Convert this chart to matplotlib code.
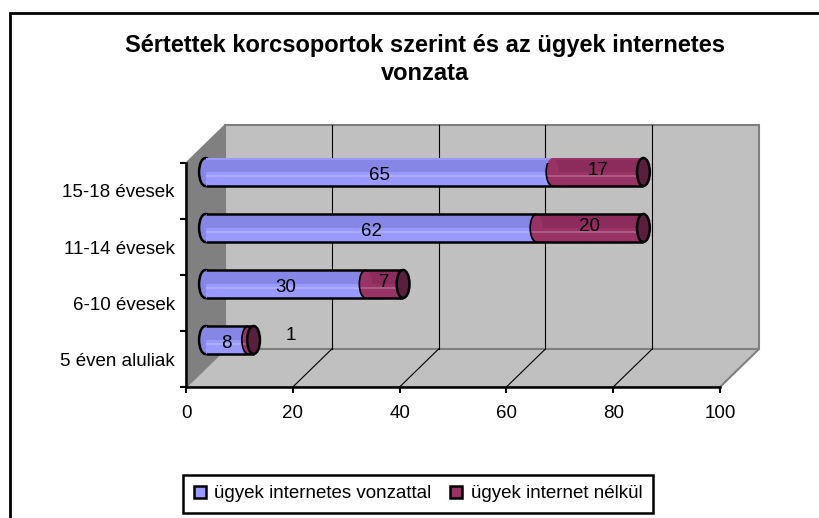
import matplotlib.pyplot as plt
from matplotlib.patches import Rectangle, Polygon, Ellipse, Arc, Patch

# data
categories = ['5 éven aluliak', '6-10 évesek', '11-14 évesek', '15-18 évesek']
with_internet = [8, 30, 62, 65]
without_internet = [1, 7, 20, 17]
series_names = ['ügyek internetes vonzattal', 'ügyek internet nélkül']
x_ticks = [0, 20, 40, 60, 80, 100]

plt.rcParams['font.family'] = ['Liberation Sans', 'DejaVu Sans']

W, H = 819, 518
fig = plt.figure(figsize=(W / 100, H / 100), dpi=100)

# front face of the 3D box (pixels -> figure fraction)
ax = fig.add_axes([186 / W, (H - 387) / H, 534 / W, 224 / H])
ax.set_xlim(0, 100)
ax.set_ylim(-0.5, 3.5)
ax.patch.set_visible(False)

# depth of the box in data units
DX = 39 / 534 * 100
DY = 38 / 224 * 4
y0, y1 = -0.5, 3.5

# walls and floor
ax.add_patch(Polygon([(0, y0), (0, y1), (DX, y1 + DY), (DX, y0 + DY)],
                     fc='#808080', ec='#808080', lw=1, clip_on=False, zorder=0))
ax.add_patch(Rectangle((DX, y0 + DY), 100, 4, fc='#c0c0c0', ec='#808080',
                       lw=1.5, clip_on=False, zorder=0))
ax.add_patch(Polygon([(0, y0), (100, y0), (100 + DX, y0 + DY), (DX, y0 + DY)],
                     fc='#c0c0c0', ec='#808080', lw=1.5, clip_on=False, zorder=0))
for t in x_ticks[1:-1]:
    ax.plot([t + DX, t + DX], [y0 + DY, y1 + DY], color='black', lw=0.8,
            clip_on=False, zorder=1)
for t in x_ticks[1:-1]:
    ax.plot([t, t + DX], [y0, y0 + DY], color='black', lw=0.8,
            clip_on=False, zorder=1)

# cylinder bars, drawn at mid depth
blue, blue_dk = '#9999ff', '#8686e6'
maroon, maroon_dk = '#993366', '#8c2c5c'
cap = '#5a1f3e'
bh = 0.5
cap_w = 2.4
for i in range(len(categories)):
    yc = i + DY / 2
    a, b = with_internet[i], without_internet[i]
    left = DX / 2
    total = a + b
    # rounded left end
    ax.add_patch(Ellipse((left, yc), cap_w, bh, fc=blue_dk, ec='black', lw=1.8,
                         clip_on=False, zorder=2))
    ax.barh(yc, a, left=left, height=bh, color=blue, edgecolor='none',
            clip_on=False, zorder=3)
    ax.barh(yc, b, left=left + a, height=bh, color=maroon, edgecolor='none',
            clip_on=False, zorder=3)
    # darker upper band for the cylinder shading
    ax.barh(yc + bh * 0.22, a, left=left, height=bh * 0.45, color=blue_dk,
            edgecolor='none', clip_on=False, zorder=3)
    ax.barh(yc + bh * 0.22, b, left=left + a, height=bh * 0.45, color=maroon_dk,
            edgecolor='none', clip_on=False, zorder=3)
    # rounded start of the second segment
    ax.add_patch(Ellipse((left + a, yc), cap_w, bh, fc=maroon, ec='none',
                         clip_on=False, zorder=3.5))
    ax.hlines(yc - 0.07, left, left + total, color='white', alpha=0.2, lw=1.5,
              zorder=4)
    ax.hlines([yc - bh / 2, yc + bh / 2], left, left + total, color='black',
              lw=1.8, zorder=5)
    ax.add_patch(Arc((left + a, yc), cap_w, bh, theta1=90, theta2=270,
                     color='black', lw=1.2, zorder=5))
    ax.add_patch(Ellipse((left + total, yc), cap_w, bh, fc=cap, ec='black',
                         lw=1.8, clip_on=False, zorder=6))
    # value labels
    ax.text(left + a / 2, yc - 0.06, str(a), ha='center', va='center',
            fontsize=13.5, zorder=7)
    if b < 3:
        ax.text(left + total + 7, yc + 0.08, str(b), ha='center', va='center',
                fontsize=13.5, zorder=7)
    else:
        ax.text(left + a + b / 2, yc + 0.03, str(b), ha='center', va='center',
                fontsize=13.5, zorder=7)

# axes styling
for s in ['top', 'right']:
    ax.spines[s].set_visible(False)
for s in ['left', 'bottom']:
    ax.spines[s].set_linewidth(1.8)
    ax.spines[s].set_zorder(8)
ax.set_yticks([-0.5, 0.5, 1.5, 2.5, 3.5])
ax.set_yticklabels([])
ax.set_yticks(range(len(categories)), minor=True)
ax.set_yticklabels(categories, minor=True, fontsize=13.5)
ax.tick_params(axis='y', which='major', direction='out', length=4.5, width=1.5)
ax.tick_params(axis='y', which='minor', length=0, pad=8)
ax.set_xticks(x_ticks)
ax.tick_params(axis='x', direction='out', length=4, width=1.5, pad=9,
               labelsize=13.5)

fig.text(425 / W, 1 - 52 / H,
         'Sértettek korcsoportok szerint és az ügyek internetes',
         ha='center', va='baseline', fontsize=17, fontweight='bold')
fig.text(425 / W, 1 - 80 / H, 'vonzata',
         ha='center', va='baseline', fontsize=17, fontweight='bold')

handles = [Patch(fc=blue, ec='black', lw=1.8), Patch(fc=maroon, ec='black', lw=1.8)]
leg = fig.legend(handles, series_names, loc='center',
                 bbox_to_anchor=(418 / W, 1 - 494 / H), ncol=2, fancybox=False,
                 edgecolor='black', fontsize=13.5, handlelength=0.65,
                 handleheight=0.65, handletextpad=0.45, columnspacing=1.0,
                 borderpad=0.55, framealpha=1)
leg.get_frame().set_linewidth(1.8)

# outer chart frame (its right and bottom sides lie outside the picture)
fig.add_artist(Rectangle((10 / W, -0.1), 1.0, (H - 13) / H + 0.1,
                         transform=fig.transFigure, fill=False, ec='black', lw=2))

fig.savefig('out.png', dpi=100)
